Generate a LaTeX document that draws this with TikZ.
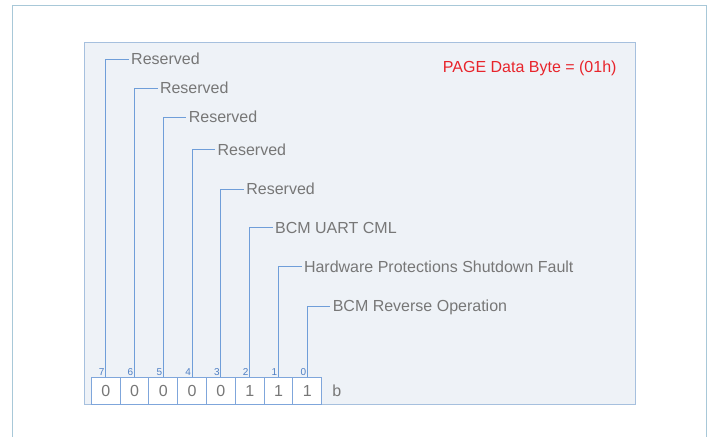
\documentclass[tikz,border=0pt]{standalone}
\usepackage{fontspec}
\setmainfont{Liberation Sans}
\definecolor{frameC}{HTML}{A8C8D8}
\definecolor{panelF}{HTML}{EEF2F7}
\definecolor{panelD}{HTML}{A6C0DE}
\definecolor{lineC}{HTML}{6F9ED9}
\definecolor{boxC}{HTML}{7FA6DB}
\definecolor{txtC}{HTML}{777777}
\definecolor{redC}{HTML}{E8242B}
\definecolor{numC}{HTML}{4E7FC4}
\begin{document}
\begin{tikzpicture}[x=1pt,y=-1pt,
  lbl/.style={anchor=west,inner xsep=2.3pt,inner ysep=0pt,text height=12pt,text depth=1.4pt,
    text=txtC,font=\fontsize{16}{19}\selectfont},
  bitbox/.style={draw=boxC,fill=white,line width=1pt,minimum width=28.8pt,minimum height=27pt,
    inner sep=0pt,text=txtC,font=\fontsize{16}{19}\selectfont},
  bitnum/.style={inner sep=0pt,text=numC,font=\fontsize{10}{12}\selectfont},
  conn/.style={draw=lineC,line width=1pt}]
\useasboundingbox (0,0) rectangle (711,436);
\begin{scope}
\clip (0,0) rectangle (711,436);
\draw[frameC,line width=1.2pt] (12.3,5.5) rectangle (706.7,460);
\end{scope}
\draw[panelD,fill=panelF,line width=1.3pt] (84.7,42.7) rectangle (635.3,404.3) node[pos=0,inner sep=0pt](panel){};
\node[anchor=base east,inner sep=0pt,text=redC,font=\fontsize{16}{19}\selectfont] (page) at (616.7,72.5) {PAGE Data Byte = (01h)};
% bit boxes
\foreach \i/\v [count=\k from 0] in {7/0,6/0,5/0,4/0,3/0,2/1,1/1,0/1}{
  \node[bitbox] (b\i) at ({105.7+28.8*\k},391) {\v};
  \node[bitnum] (n\i) at ({101.7+28.8*\k},372.5) {\i};
}
\node[inner sep=0pt,text=txtC,font=\fontsize{16}{19}\selectfont] (bsuf) at (336.7,391) {b};
% labels
\node[lbl] (l7) at (128.7,59) {Reserved};
\node[lbl] (l6) at (157.5,88) {Reserved};
\node[lbl] (l5) at (186.3,117) {Reserved};
\node[lbl] (l4) at (215.1,149.7) {Reserved};
\node[lbl] (l3) at (243.9,189) {Reserved};
\node[lbl] (l2) at (272.7,227.7) {BCM UART CML};
\node[lbl] (l1) at (301.5,266.7) {Hardware Protections Shutdown Fault};
\node[lbl] (l0) at (330.3,306) {BCM Reverse Operation};
\foreach \i in {7,...,0}{
  \draw[conn] (b\i.north) |- (l\i.west);
}
\end{tikzpicture}
\end{document}
